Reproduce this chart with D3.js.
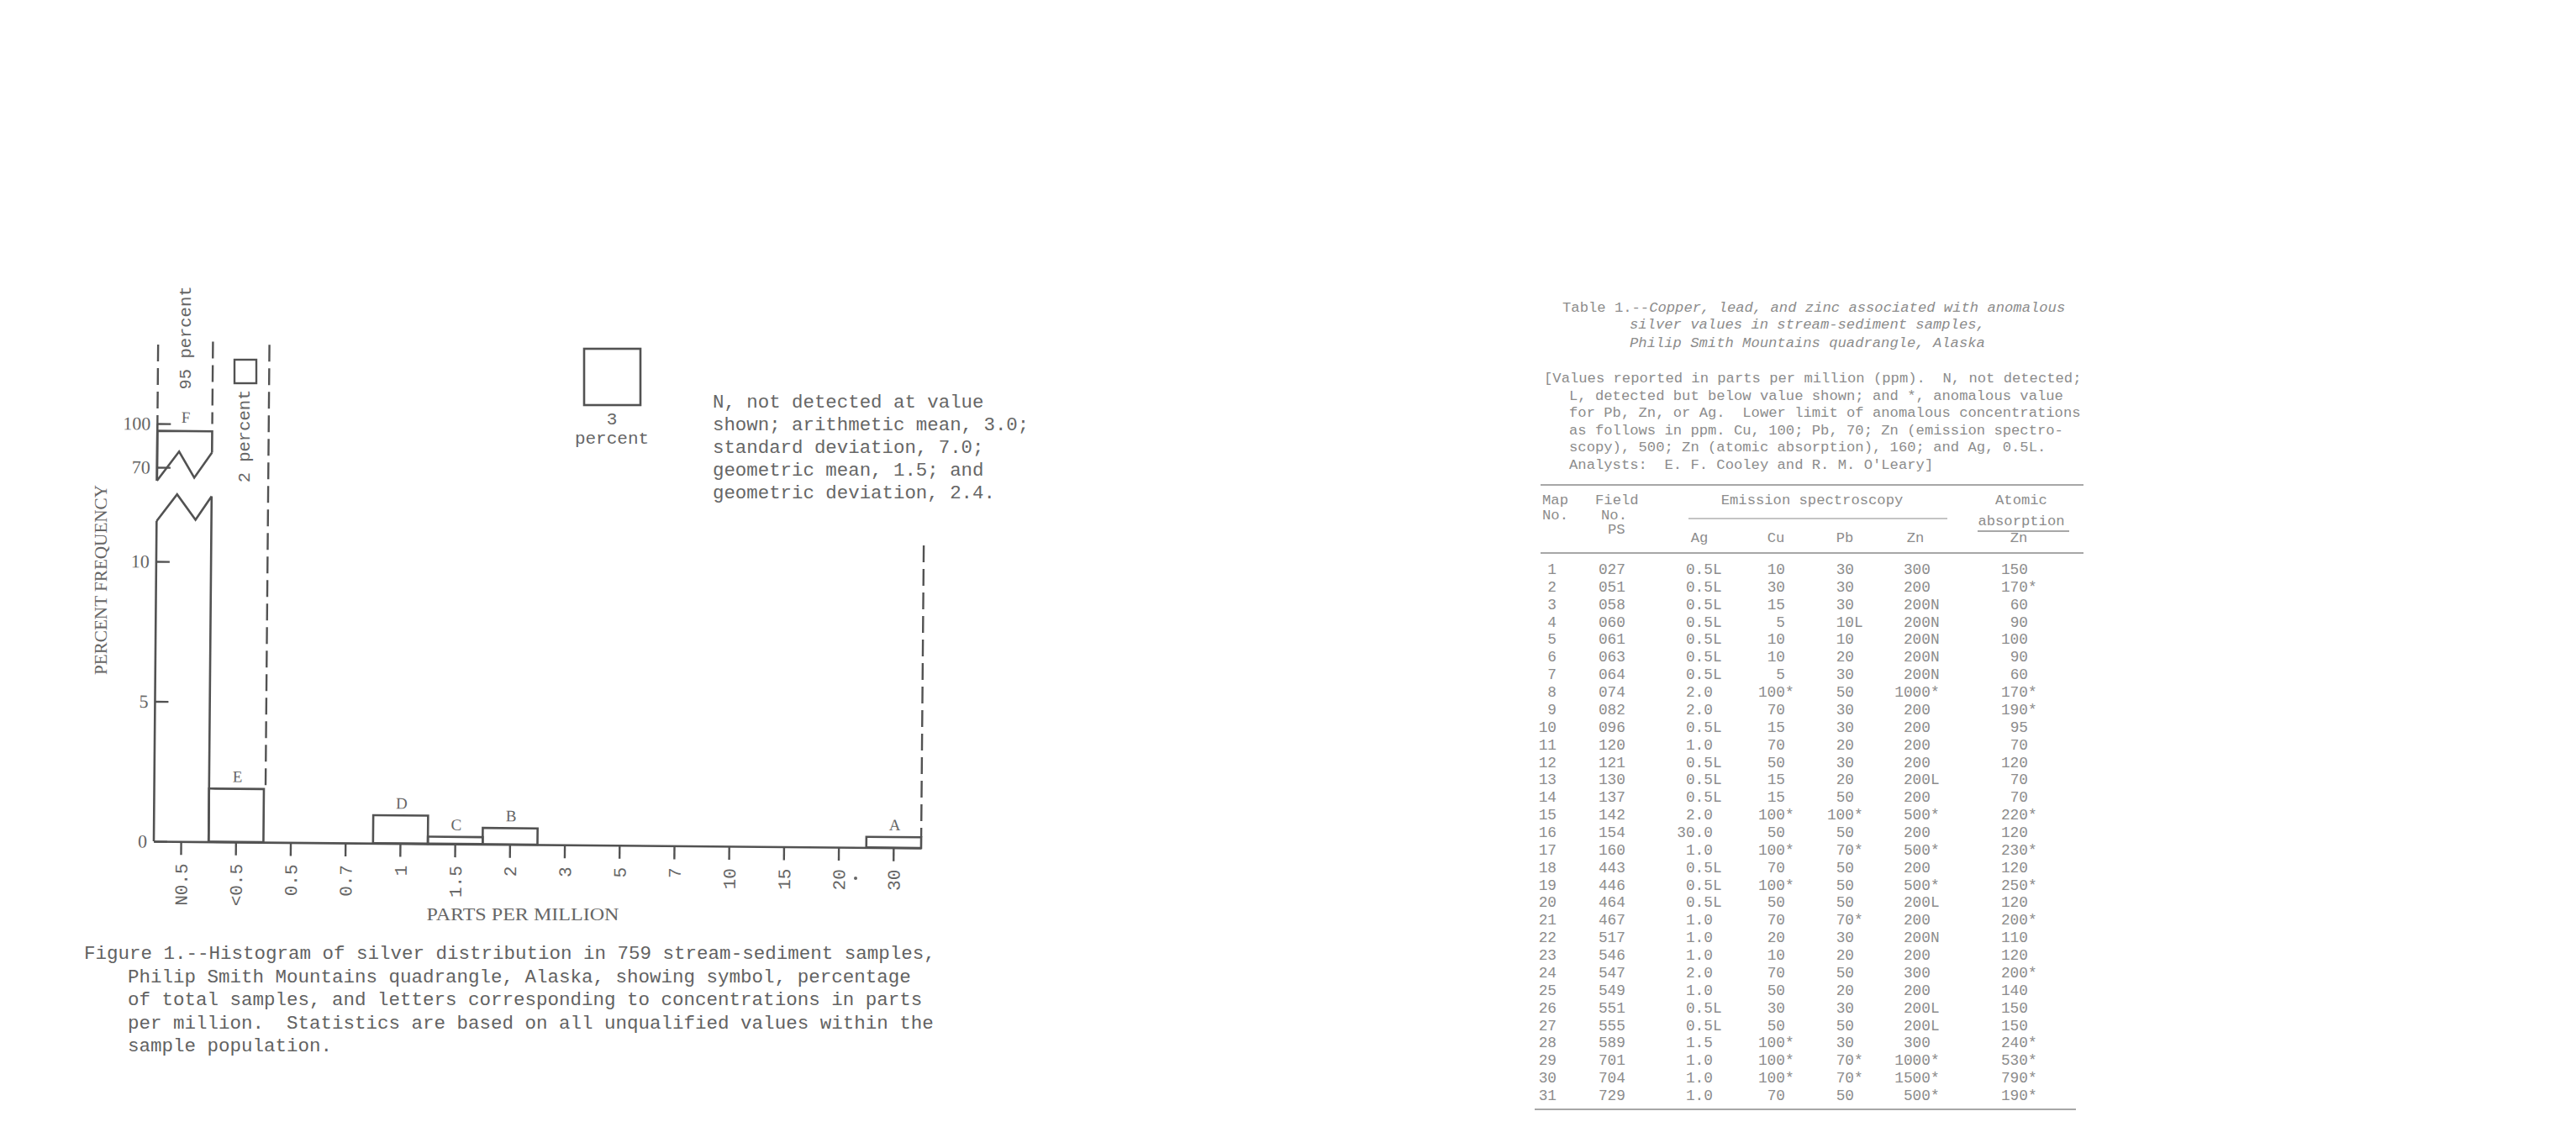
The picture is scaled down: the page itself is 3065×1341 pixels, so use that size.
<!DOCTYPE html>
<html>
<head>
<meta charset="utf-8">
<script src="https://cdn.jsdelivr.net/npm/d3@7/dist/d3.min.js"></script>
<style>
  html, body { margin: 0; padding: 0; background: #fff; }
  svg { display: block; }
</style>
</head>
<body>
<svg id="page" width="3065" height="1341"></svg>
<script>
// ---- Figure 1: silver histogram -------------------------------------------
const categories = ["N0.5", "<0.5", "0.5", "0.7", "1", "1.5", "2", "3", "5", "7", "10", "15", "20", "30"];
const percents   = [95, 1.9, 0, 0, 1.0, 0.25, 0.58, 0, 0, 0, 0, 0, 0, 0.38];
const letters    = ["F", "E", "", "", "D", "C", "B", "", "", "", "", "", "", "A"];
const yTickValues = [0, 5, 10, 70, 100];

const statsLines = [
  "N, not detected at value",
  "shown; arithmetic mean, 3.0;",
  "standard deviation, 7.0;",
  "geometric mean, 1.5; and",
  "geometric deviation, 2.4."
];

const captionLines = [
  "Figure 1.--Histogram of silver distribution in 759 stream-sediment samples,",
  "Philip Smith Mountains quadrangle, Alaska, showing symbol, percentage",
  "of total samples, and letters corresponding to concentrations in parts",
  "per million.  Statistics are based on all unqualified values within the",
  "sample population."
];

// ---- Table 1 ----------------------------------------------------------------
const tableTitle = [
  "Copper, lead, and zinc associated with anomalous",
  "silver values in stream-sediment samples,",
  "Philip Smith Mountains quadrangle, Alaska"
];
const tableNote = [
  "[Values reported in parts per million (ppm).  N, not detected;",
  "L, detected but below value shown; and *, anomalous value",
  "for Pb, Zn, or Ag.  Lower limit of anomalous concentrations",
  "as follows in ppm. Cu, 100; Pb, 70; Zn (emission spectro-",
  "scopy), 500; Zn (atomic absorption), 160; and Ag, 0.5L.",
  "Analysts:  E. F. Cooley and R. M. O'Leary]"
];
const mapNo   = ["1","2","3","4","5","6","7","8","9","10","11","12","13","14","15","16",
                 "17","18","19","20","21","22","23","24","25","26","27","28","29","30","31"];
const fieldNo = ["027","051","058","060","061","063","064","074","082","096","120","121","130","137","142","154",
                 "160","443","446","464","467","517","546","547","549","551","555","589","701","704","729"];
const agES    = ["0.5L","0.5L","0.5L","0.5L","0.5L","0.5L","0.5L","2.0","2.0","0.5L","1.0","0.5L","0.5L","0.5L","2.0","30.0",
                 "1.0","0.5L","0.5L","0.5L","1.0","1.0","1.0","2.0","1.0","0.5L","0.5L","1.5","1.0","1.0","1.0"];
const cuES    = ["10","30","15","5","10","10","5","100*","70","15","70","50","15","15","100*","50",
                 "100*","70","100*","50","70","20","10","70","50","30","50","100*","100*","100*","70"];
const pbES    = ["30","30","30","10L","10","20","30","50","30","30","20","30","20","50","100*","50",
                 "70*","50","50","50","70*","30","20","50","20","30","50","30","70*","70*","50"];
const znES    = ["300","200","200N","200N","200N","200N","200N","1000*","200","200","200","200","200L","200","500*","200",
                 "500*","200","500*","200L","200","200N","200","300","200","200L","200L","300","1000*","1500*","500*"];
const znAA    = ["150","170*","60","90","100","90","60","170*","190*","95","70","120","70","70","220*","120",
                 "230*","120","250*","120","200*","110","120","200*","140","150","150","240*","530*","790*","190*"];

const INK = "#525252";
const TXT = "#666";
const MONO = "'Liberation Mono', 'DejaVu Sans Mono', monospace";
const SERIF = "'Liberation Serif', 'DejaVu Serif', serif";

const svg = d3.select("#page");
svg.append("rect").attr("width", 3065).attr("height", 1341).attr("fill", "#fff");

// scales: band per concentration class; broken y scale (0-10 linear, gap, 70-100)
const x = d3.scaleBand().domain(categories).range([183, 1096]).padding(0);
const y = d3.scaleLinear().domain([0, 10, 70, 100]).range([1001, 668, 556, 504]);
const bw = x.bandwidth();
const bars = categories.map((c, i) => ({ c, v: percents[i], letter: letters[i] }));

const chart = svg.append("g").attr("transform", "rotate(0.5,183,1001)");

// x axis
const xAxis = d3.axisBottom(x).tickSize(16).tickSizeOuter(0).tickPadding(0);
const xa = chart.append("g").attr("transform", `translate(0,${y(0)})`).call(xAxis);
xa.select(".domain").attr("stroke", INK).attr("stroke-width", 2.6);
xa.selectAll(".tick line").attr("stroke", INK).attr("stroke-width", 2.4);
xa.selectAll(".tick text")
  .attr("transform", "rotate(-90)")
  .attr("x", -26).attr("y", 0).attr("dy", "0.36em")
  .attr("text-anchor", "end")
  .attr("font-family", MONO).attr("font-size", 21).attr("fill", TXT);

// y axis (ticks point into the plot)
const yAxis = d3.axisLeft(y).tickValues(yTickValues).tickSize(-16).tickPadding(8).tickFormat(d3.format("d"));
const ya = chart.append("g").attr("transform", `translate(${x.range()[0]},0)`).call(yAxis);
ya.select(".domain").remove();
ya.selectAll(".tick line").attr("stroke", INK).attr("stroke-width", 2.4);
ya.selectAll(".tick text")
  .attr("font-family", SERIF).attr("font-size", 22).attr("fill", TXT);

// break marks around the compressed 10-70 interval
const y70 = y(70);
const brk = { upL: y70 + 16, upR: y70 - 18, loL: y70 + 64, loR: y70 + 34 };
const x0 = x.range()[0];
chart.append("path")
  .attr("d", `M${x0},${y(0)}V${brk.loL}M${x0},${brk.upL}V${y(100)}`)
  .attr("fill", "none").attr("stroke", INK).attr("stroke-width", 2.6);

// bars
bars.forEach(b => {
  if (b.v <= 0) return;
  const bx = x(b.c), bx1 = bx + bw;
  if (b.v > 10) {
    const top = y(b.v);
    const d = [
      `M${bx},${brk.upL}V${top}H${bx1}V${brk.upR}`,
      `M${bx1},${brk.loR}V${y(0)}`,
      `M${bx},${brk.upL}L${bx + 0.4 * bw},${y70 - 19}L${bx + 0.68 * bw},${y70 + 12}L${bx1},${brk.upR}`,
      `M${bx},${brk.loL}L${bx + 0.37 * bw},${y70 + 32}L${bx + 0.71 * bw},${y70 + 62}L${bx1},${brk.loR}`
    ].join("");
    chart.append("path").attr("d", d).attr("fill", "none")
      .attr("stroke", INK).attr("stroke-width", 2.6).attr("stroke-linejoin", "miter");
  } else {
    chart.append("rect")
      .attr("x", bx).attr("y", y(b.v))
      .attr("width", bw).attr("height", y(0) - y(b.v))
      .attr("fill", "none").attr("stroke", INK).attr("stroke-width", 2.6);
  }
});

// concentration letters above the bars
chart.selectAll("text.letter")
  .data(bars.filter(b => b.letter))
  .join("text")
  .attr("class", "letter")
  .attr("x", b => x(b.c) + bw / 2 + 1)
  .attr("y", b => y(b.v) - (b.v > 10 ? 10 : 8))
  .attr("text-anchor", "middle")
  .attr("font-family", SERIF).attr("font-size", 19).attr("fill", TXT)
  .text(b => b.letter);

// dashed group boundaries: 95 percent (F), 2 percent (E), 3 percent (remaining classes)
const dashed = [
  { x: x("N0.5"), y1: 410, y2: y(100) },
  { x: x("N0.5") + bw, y1: 406, y2: y(100) },
  { x: x("<0.5") + bw + 2, y1: 409, y2: y(percents[1]) },
  { x: x("30") + bw, y1: 641, y2: y(percents[13]) }
];
chart.selectAll("line.grp")
  .data(dashed)
  .join("line")
  .attr("class", "grp")
  .attr("x1", d => d.x).attr("x2", d => d.x)
  .attr("y1", d => d.y1).attr("y2", d => d.y2)
  .attr("stroke", INK).attr("stroke-width", 2.4)
  .attr("stroke-dasharray", "20,8");

// symbol sizes and percentages
svg.append("text")
  .attr("transform", "translate(227,402) rotate(-90)")
  .attr("text-anchor", "middle")
  .attr("font-family", MONO).attr("font-size", 20.5).attr("fill", TXT)
  .text("95 percent");
svg.append("text")
  .attr("transform", "translate(297,519) rotate(-90)")
  .attr("text-anchor", "middle")
  .attr("font-family", MONO).attr("font-size", 20.5).attr("fill", TXT)
  .text("2 percent");
svg.append("rect").attr("x", 279).attr("y", 428).attr("width", 26).attr("height", 28)
  .attr("fill", "none").attr("stroke", INK).attr("stroke-width", 2.4);
svg.append("rect").attr("x", 695).attr("y", 415).attr("width", 67).attr("height", 67)
  .attr("fill", "none").attr("stroke", INK).attr("stroke-width", 2.6);
svg.append("text").attr("x", 728).attr("y", 505).attr("text-anchor", "middle")
  .attr("font-family", MONO).attr("font-size", 21).attr("fill", TXT).text("3");
svg.append("text").attr("x", 728).attr("y", 528).attr("text-anchor", "middle")
  .attr("font-family", MONO).attr("font-size", 21).attr("fill", TXT).text("percent");

// statistics note
svg.append("g").selectAll("text")
  .data(statsLines)
  .join("text")
  .attr("x", 848).attr("y", (d, i) => 485 + i * 27)
  .attr("font-family", MONO).attr("font-size", 22.4).attr("fill", TXT)
  .style("white-space", "pre")
  .text(d => d);

// axis titles
svg.append("text")
  .attr("transform", "translate(127,690) rotate(-90)")
  .attr("text-anchor", "middle")
  .attr("font-family", SERIF).attr("font-size", 22).attr("fill", TXT)
  .attr("textLength", 226).attr("lengthAdjust", "spacingAndGlyphs")
  .text("PERCENT FREQUENCY");
svg.append("text")
  .attr("x", 622).attr("y", 1095)
  .attr("text-anchor", "middle")
  .attr("font-family", SERIF).attr("font-size", 22).attr("fill", TXT)
  .attr("textLength", 229).attr("lengthAdjust", "spacingAndGlyphs")
  .text("PARTS PER MILLION");
svg.append("circle").attr("cx", 1018).attr("cy", 1045).attr("r", 2).attr("fill", TXT);

// caption
svg.append("g").selectAll("text")
  .data(captionLines)
  .join("text")
  .attr("x", (d, i) => i === 0 ? 100 : 152)
  .attr("y", (d, i) => 1141 + i * 27.5)
  .attr("font-family", MONO).attr("font-size", 22.5).attr("fill", "#626262")
  .style("white-space", "pre")
  .text(d => d);

// ---- Table ------------------------------------------------------------------
const TT = "#8c8c8c";
const RULE = "#8a8a8a";
const tfs = 17.2;
const t = svg.append("g").attr("font-family", MONO).attr("font-size", tfs).attr("fill", TT);

const title0 = t.append("text").attr("x", 1859).attr("y", 371).style("white-space", "pre");
title0.append("tspan").text("Table 1.--");
title0.append("tspan").attr("font-style", "italic").text(tableTitle[0]);
t.append("text").attr("x", 1939).attr("y", 391).attr("font-style", "italic").text(tableTitle[1]);
t.append("text").attr("x", 1939).attr("y", 413).attr("font-style", "italic").text(tableTitle[2]);

t.selectAll("text.note")
  .data(tableNote)
  .join("text")
  .attr("class", "note")
  .attr("x", (d, i) => i === 0 ? 1837 : 1867)
  .attr("y", (d, i) => 455 + i * 20.5)
  .style("white-space", "pre")
  .text(d => d);

// rules
const rules = [
  { x1: 1833, x2: 2479, y: 577, w: 1.6 },
  { x1: 1833, x2: 2479, y: 658, w: 1.6 },
  { x1: 1826, x2: 2470, y: 1320, w: 1.6 },
  { x1: 2009, x2: 2317, y: 617, w: 1.1 },
  { x1: 2353, x2: 2462, y: 632, w: 1.3 }
];
t.selectAll("line.rule")
  .data(rules)
  .join("line")
  .attr("class", "rule")
  .attr("x1", d => d.x1).attr("x2", d => d.x2)
  .attr("y1", d => d.y).attr("y2", d => d.y)
  .attr("stroke", RULE).attr("stroke-width", d => d.w);

// column headings
const heads = [
  { s: "Map", x: 1835, y: 600, a: "start" },
  { s: "No.", x: 1835, y: 618, a: "start" },
  { s: "Field", x: 1898, y: 600, a: "start" },
  { s: "No.", x: 1905, y: 618, a: "start" },
  { s: "PS", x: 1913, y: 635, a: "start" },
  { s: "Emission spectroscopy", x: 2156, y: 600, a: "middle" },
  { s: "Ag", x: 2022, y: 645, a: "middle" },
  { s: "Cu", x: 2113, y: 645, a: "middle" },
  { s: "Pb", x: 2195, y: 645, a: "middle" },
  { s: "Zn", x: 2279, y: 645, a: "middle" },
  { s: "Atomic", x: 2405, y: 600, a: "middle" },
  { s: "absorption", x: 2405, y: 625, a: "middle" },
  { s: "Zn", x: 2402, y: 645, a: "middle" }
];
t.selectAll("text.head")
  .data(heads)
  .join("text")
  .attr("class", "head")
  .attr("x", d => d.x).attr("y", d => d.y)
  .attr("text-anchor", d => d.a)
  .text(d => d.s);

// body: numeric parts right-aligned on each column, qualifiers (L, N, *) hang right
const dfs = 17.8;
const cw = dfs * 0.6;
const rowY = d3.scalePoint().domain(mapNo).range([683, 1309]);
const columns = [
  { vals: mapNo,   right: 1852 },
  { vals: fieldNo, right: 1934 },
  { vals: agES,    right: 2038 },
  { vals: cuES,    right: 2124 },
  { vals: pbES,    right: 2206 },
  { vals: znES,    right: 2297 },
  { vals: znAA,    right: 2413 }
];
columns.forEach(col => {
  t.append("g").attr("font-size", dfs).selectAll("text")
    .data(col.vals.map((v, i) => ({ v, row: mapNo[i] })))
    .join("text")
    .attr("x", d => {
      const num = d.v.match(/^[\d.]+/)[0];
      return col.right - num.length * cw;
    })
    .attr("y", d => rowY(d.row))
    .text(d => d.v);
});
</script>
</body>
</html>
